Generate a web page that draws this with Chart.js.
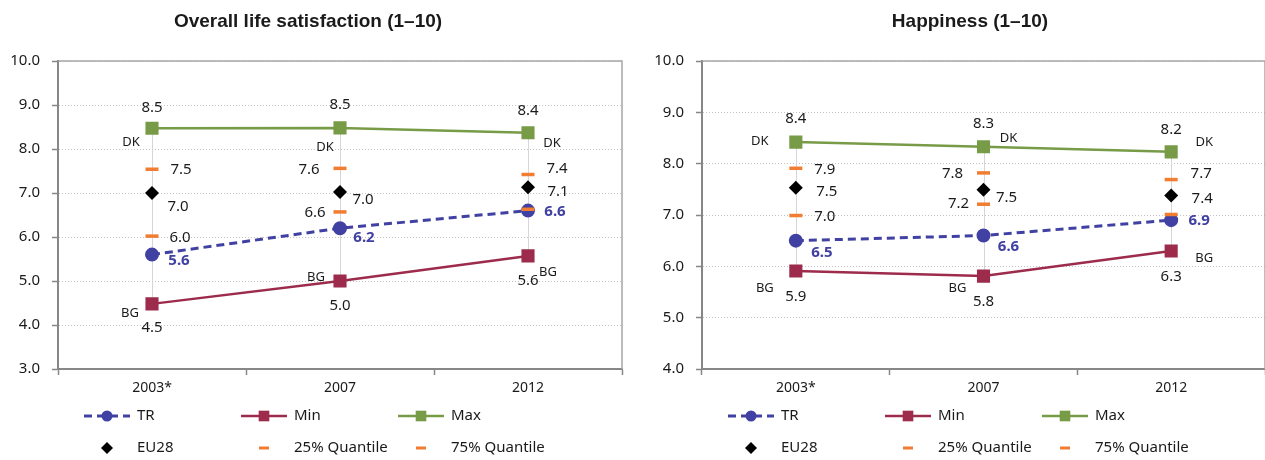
<!DOCTYPE html>
<html>
<head>
<meta charset="utf-8">
<script src="https://cdn.jsdelivr.net/npm/chart.js@4.4.1/dist/chart.umd.min.js"></script>
<style>
  html, body { margin: 0; padding: 0; background: #fff; }
  #wrap { position: relative; width: 1265px; height: 460px; overflow: hidden; }
  .box { position: absolute; top: 0; height: 460px; }
  #lifeBox { left: 0; width: 632px; }
  #happyBox { left: 632px; width: 633px; }
</style>
</head>
<body>
<div id="wrap">
  <div class="box" id="lifeBox"><canvas id="lifeChart"></canvas></div>
  <div class="box" id="happyBox"><canvas id="happyChart"></canvas></div>
</div>
<script>
const years = ['2003*', '2007', '2012'];
const minCountry = ['BG', 'BG', 'BG'];
const maxCountry = ['DK', 'DK', 'DK'];

// Overall life satisfaction (1-10)
const lifeTR = [5.6, 6.2, 6.6];
const lifeMin = [4.48, 5.0, 5.57];
const lifeMax = [8.47, 8.48, 8.37];
const lifeEU28 = [7.0, 7.02, 7.13];
const lifeQ25 = [6.02, 6.57, 6.63];
const lifeQ75 = [7.54, 7.56, 7.42];

// Happiness (1-10)
const hapTR = [6.5, 6.6, 6.9];
const hapMin = [5.91, 5.81, 6.3];
const hapMax = [8.42, 8.33, 8.23];
const hapEU28 = [7.53, 7.49, 7.38];
const hapQ25 = [6.99, 7.21, 7.01];
const hapQ75 = [7.91, 7.82, 7.69];

const textFont = "'Noto Sans', sans-serif";
const inkColor = '#1a1a1a';
const axisGrey = '#878787';

function drawMarker(ctx, style, x, y, r, color, lineW) {
    ctx.fillStyle = color;
    ctx.strokeStyle = color;
    ctx.beginPath();
    if (style === 'circle') {
        ctx.arc(x, y, r, 0, Math.PI * 2);
        ctx.fill();
    } else if (style === 'rect') {
        const s = r * Math.SQRT1_2;
        ctx.fillRect(x - s, y - s, 2 * s, 2 * s);
    } else if (style === 'rectRot') {
        ctx.moveTo(x, y - r); ctx.lineTo(x + r, y); ctx.lineTo(x, y + r); ctx.lineTo(x - r, y);
        ctx.closePath();
        ctx.fill();
    } else if (style === 'line') {
        ctx.lineWidth = lineW;
        ctx.moveTo(x - r, y); ctx.lineTo(x + r, y);
        ctx.stroke();
    }
}

// frame on top/right + thin high-low lines between Max and Min
const rangeLines = {
    id: 'rangeLines',
    beforeDatasetsDraw(chart) {
        const ctx = chart.ctx, a = chart.chartArea;
        const xs = chart.scales.x, ys = chart.scales.y;
        const lo = chart.data.datasets[1].data, hi = chart.data.datasets[2].data;
        ctx.save();
        ctx.strokeStyle = '#a6a6a6';
        ctx.lineWidth = 1.5;
        ctx.beginPath();
        ctx.moveTo(a.left, a.top); ctx.lineTo(a.right, a.top); ctx.lineTo(a.right, a.bottom);
        ctx.stroke();
        ctx.strokeStyle = '#d6d6d6';
        ctx.lineWidth = 1;
        hi.forEach((v, i) => {
            const x = Math.round(xs.getPixelForValue(i)) + 0.5;
            ctx.beginPath();
            ctx.moveTo(x, ys.getPixelForValue(v));
            ctx.lineTo(x, ys.getPixelForValue(lo[i]));
            ctx.stroke();
        });
        ctx.restore();
    }
};

const valueLabels = {
    id: 'valueLabels',
    afterDatasetsDraw(chart) {
        const ctx = chart.ctx;
        ctx.save();
        ctx.textAlign = 'center';
        ctx.textBaseline = 'middle';
        chart.data.datasets.forEach((ds, di) => {
            chart.getDatasetMeta(di).data.forEach((pt, i) => {
                const off = ds.valuePos && ds.valuePos[i];
                if (off) {
                    ctx.font = ds.valueFont || '15px ' + textFont;
                    ctx.fillStyle = ds.valueColor || inkColor;
                    ctx.fillText(ds.data[i].toFixed(1), pt.x + off[0], pt.y + off[1]);
                }
                const cOff = ds.countryPos && ds.countryPos[i];
                if (cOff) {
                    ctx.font = '13px ' + textFont;
                    ctx.fillStyle = inkColor;
                    ctx.fillText(ds.countries[i], pt.x + cOff[0], pt.y + cOff[1]);
                }
            });
        });
        ctx.restore();
    }
};

// 3-column legend like the original
const gridLegend = {
    id: 'gridLegend',
    afterDraw(chart) {
        const ctx = chart.ctx, a = chart.chartArea;
        ctx.save();
        chart.data.datasets.forEach((ds, i) => {
            const x0 = a.left + 26 + (i % 3) * 157;
            const y = 416 + Math.floor(i / 3) * 32;
            if (ds.showLine !== false) {
                ctx.strokeStyle = ds.borderColor;
                ctx.lineWidth = ds.borderWidth;
                ctx.setLineDash(ds.borderDash || []);
                ctx.beginPath();
                ctx.moveTo(x0, y); ctx.lineTo(x0 + 46, y);
                ctx.stroke();
                ctx.setLineDash([]);
            }
            drawMarker(ctx, ds.pointStyle, x0 + 23, y, ds.legendRadius || ds.pointRadius,
                ds.pointBorderColor || ds.pointBackgroundColor, 3);
            ctx.font = '15px ' + textFont;
            ctx.fillStyle = inkColor;
            ctx.textAlign = 'left';
            ctx.textBaseline = 'middle';
            ctx.fillText(ds.label, x0 + 53, y);
        });
        ctx.restore();
    }
};

const heading = {
    id: 'heading',
    afterDraw(chart, args, opts) {
        const ctx = chart.ctx;
        ctx.save();
        ctx.font = 'bold 19px "Liberation Sans", Arial, sans-serif';
        ctx.fillStyle = inkColor;
        ctx.textAlign = 'center';
        ctx.textBaseline = 'middle';
        ctx.fillText(opts.text, opts.x, 22);
        ctx.restore();
    }
};

function makeChart(cfg) {
    const datasets = [
        { label: 'TR', data: cfg.tr, order: 3,
          borderColor: '#4141a3', borderWidth: 3, borderDash: [8, 5],
          pointStyle: 'circle', pointRadius: 5.5, pointBackgroundColor: '#4141a3', pointBorderColor: '#4141a3',
          valuePos: cfg.pos.tr, valueColor: '#4141a3', valueFont: 'bold 15px ' + textFont },
        { label: 'Min', data: cfg.min, order: 5,
          borderColor: '#9c2b4c', borderWidth: 2.5,
          pointStyle: 'rect', pointRadius: 7.5, pointBackgroundColor: '#9c2b4c', pointBorderColor: '#9c2b4c',
          valuePos: cfg.pos.minVal, countries: minCountry, countryPos: cfg.pos.minCty },
        { label: 'Max', data: cfg.max, order: 4,
          borderColor: '#779b47', borderWidth: 2.5,
          pointStyle: 'rect', pointRadius: 7.5, pointBackgroundColor: '#779b47', pointBorderColor: '#779b47',
          valuePos: cfg.pos.maxVal, countries: maxCountry, countryPos: cfg.pos.maxCty },
        { label: 'EU28', data: cfg.eu, order: 2, showLine: false,
          borderColor: '#000', pointStyle: 'rectRot', pointRadius: 7, legendRadius: 6,
          pointBackgroundColor: '#000', pointBorderColor: '#000', pointBorderWidth: 0,
          valuePos: cfg.pos.eu },
        { label: '25% Quantile', data: cfg.q25, order: 1, showLine: false,
          borderColor: '#f07d32', pointStyle: 'line', pointRadius: 6.5, legendRadius: 5,
          pointBorderColor: '#f07d32', pointBorderWidth: 3.5,
          valuePos: cfg.pos.q25 },
        { label: '75% Quantile', data: cfg.q75, order: 1, showLine: false,
          borderColor: '#f07d32', pointStyle: 'line', pointRadius: 6.5, legendRadius: 5,
          pointBorderColor: '#f07d32', pointBorderWidth: 3.5,
          valuePos: cfg.pos.q75 }
    ];

    return new Chart(document.getElementById(cfg.id), {
        type: 'line',
        data: { labels: years, datasets: datasets },
        plugins: [rangeLines, valueLabels, gridLegend, heading],
        options: {
            responsive: true,
            maintainAspectRatio: false,
            animation: false,
            events: [],
            layout: {
                autoPadding: false,
                padding: { top: 61, bottom: 61, left: 0, right: cfg.padRight }
            },
            plugins: {
                legend: { display: false },
                tooltip: { enabled: false },
                heading: { text: cfg.title, x: cfg.titleX }
            },
            scales: {
                x: {
                    type: 'category',
                    offset: true,
                    grid: { display: true, drawOnChartArea: false, drawTicks: true, offset: true,
                            tickLength: 6, tickColor: axisGrey, tickWidth: 1.5, tickBorderDash: [] },
                    border: { color: axisGrey, width: 2 },
                    ticks: { color: inkColor, font: { family: textFont, size: 14 }, padding: 5,
                             maxRotation: 0, autoSkip: false },
                    afterFit(s) {
                        s.height = 30;
                        s.paddingLeft = 0;
                        s.paddingRight = 0;
                    }
                },
                y: {
                    min: cfg.yMin,
                    max: 10,
                    ticks: { stepSize: 1, color: inkColor, font: { family: textFont, size: 15 }, padding: 12,
                             callback: v => v.toFixed(1) },
                    grid: { color: '#c3c3c3', lineWidth: 1, tickLength: 6, tickColor: axisGrey,
                            tickWidth: 1.5, tickBorderDash: [] },
                    border: { color: axisGrey, width: 2, dash: [1, 2] },
                    afterFit(s) { s.width = cfg.axisWidth; }
                }
            }
        }
    });
}

makeChart({
    id: 'lifeChart', title: 'Overall life satisfaction (1–10)', titleX: 308,
    yMin: 3, axisWidth: 58, padRight: 10,
    tr: lifeTR, min: lifeMin, max: lifeMax, eu: lifeEU28, q25: lifeQ25, q75: lifeQ75,
    pos: {
        tr: [[27, 6], [24, 10], [27, 1]],
        minVal: [[0, 24], [0, 25], [0, 25]],
        minCty: [[-22, 9], [-24, -4], [20, 16]],
        maxVal: [[0, -21], [0, -23], [0, -22]],
        maxCty: [[-21, 14], [-15, 19], [24, 11]],
        eu: [[26, 14], [23, 8], [30, 4]],
        q25: [[28, 2], [-25, 1], null],
        q75: [[29, 0], [-31, 1], [29, -6]]
    }
});

makeChart({
    id: 'happyChart', title: 'Happiness (1–10)', titleX: 338,
    yMin: 4, axisWidth: 70, padRight: 0,
    tr: hapTR, min: hapMin, max: hapMax, eu: hapEU28, q25: hapQ25, q75: hapQ75,
    pos: {
        tr: [[26, 12], [25, 11], [28, 1]],
        minVal: [[0, 26], [0, 26], [0, 26]],
        minCty: [[-31, 17], [-26, 12], [33, 7]],
        maxVal: [[0, -23], [0, -23], [0, -22]],
        maxCty: [[-36, -1], [25, -8], [33, -10]],
        eu: [[31, 4], [23, 8], [31, 3]],
        q25: [[29, 1], [-25, 0], null],
        q75: [[29, 1], [-31, 1], [30, -6]]
    }
});
</script>
</body>
</html>
